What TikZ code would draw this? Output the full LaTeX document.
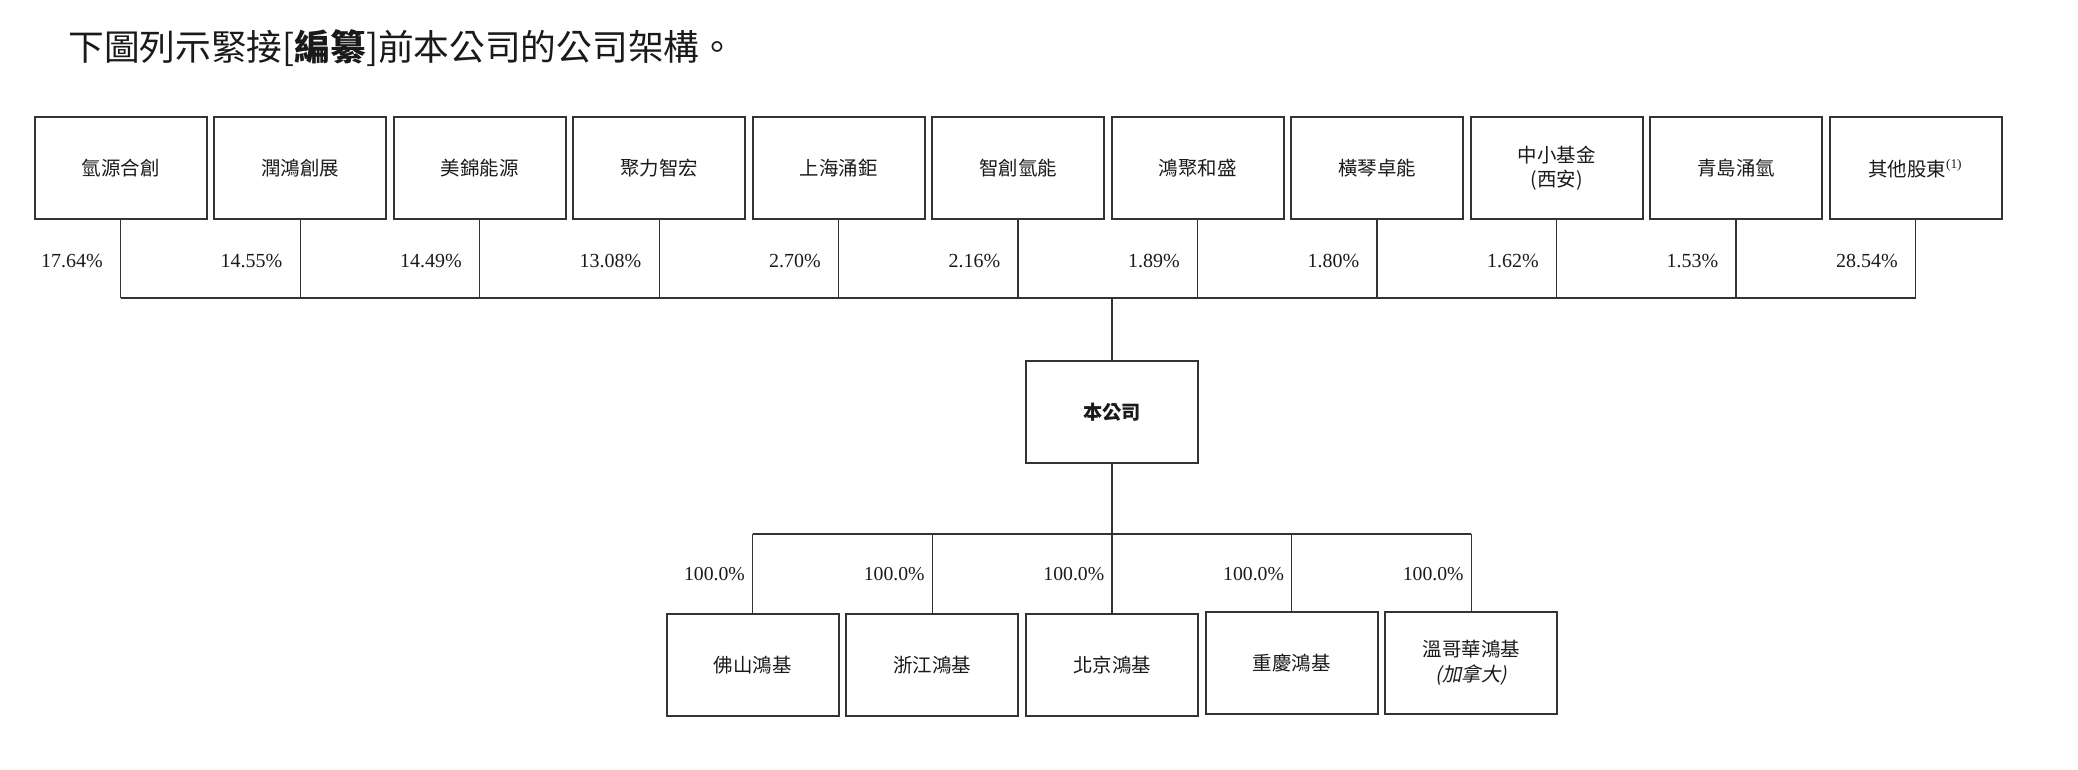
\documentclass[tikz,border=0pt]{standalone}
\usepackage{fontspec}
\setmainfont{Liberation Serif}
\newfontfamily\cjk{Noto Sans CJK TC}
\newfontfamily\cjkit[FakeSlant=0.2]{Noto Sans CJK TC}
\definecolor{linec}{HTML}{333333}
\definecolor{textc}{HTML}{1A1A1A}
\tikzset{
  orgbox/.style={draw=linec, line width=0.75pt, minimum width=64.5pt, minimum height=38.3pt,
    inner sep=0pt, align=center, text=textc, font=\cjk\fontsize{7.3}{9.2}\selectfont},
  conn/.style={draw=linec, line width=0.5pt},
  pct/.style={anchor=east, inner sep=0pt, text=textc, font=\rmfamily\fontsize{7.5}{9}\selectfont},
}
\begin{document}
\begin{tikzpicture}[x=0.5pt, y=-0.5pt]
\useasboundingbox (0,0) rectangle (1560,578);
\node[anchor=west, inner sep=0pt, text=textc, font=\cjk\fontsize{13.4}{16}\selectfont] (title) at (51,36)
  {下圖列示緊接[\textbf{編纂}]前本公司的公司架構。};
\coordinate (bus) at (0,223.8);
\coordinate (pcty) at (0,196);
\coordinate (bus2) at (0,400.8);
\coordinate (pcty2) at (0,431.1);
% top shareholders
\foreach \i/\name/\p in {
  1/氫源合創/17.64,
  2/潤鴻創展/14.55,
  3/美錦能源/14.49,
  4/聚力智宏/13.08,
  5/上海涌鉅/2.70,
  6/智創氫能/2.16,
  7/鴻聚和盛/1.89,
  8/橫琴卓能/1.80,
  9/{中小基金\\(西安)}/1.62,
  10/青島涌氫/1.53,
  11/{其他股東\textsuperscript{\rmfamily\fontsize{5}{6}\selectfont(1)}}/28.54}{
  \node[orgbox] (t\i) at ({90.6+134.75*(\i-1)},126.3) {\name};
  \draw[conn] (t\i.south) -- (t\i.south |- bus);
  \node[pct] (p\i) at ([xshift=-6.5pt]t\i.south |- pcty) {\p\%};
}
\draw[conn] (t1.south |- bus) -- (t11.south |- bus);
% company
\node[orgbox, font=\cjk\bfseries\fontsize{7.2}{9}\selectfont] (co) at (834.8,309.3) {本公司};
\draw[conn] (co.north |- bus) -- (co.north);
\draw[conn] (co.south) -- (co.south |- bus2);
% subsidiaries
\node[orgbox] (b1) at (565,499) {佛山鴻基};
\node[orgbox] (b2) at (699.9,499) {浙江鴻基};
\node[orgbox] (b3) at (834.8,499) {北京鴻基};
\node[orgbox] (b4) at (969.7,497.7) {重慶鴻基};
\node[orgbox] (b5) at (1104.6,497.7) {溫哥華鴻基\\{\cjkit(加拿大)}};
\draw[conn] (b1.north |- bus2) -- (b5.north |- bus2);
\foreach \i in {1,...,5}{
  \draw[conn] (b\i.north |- bus2) -- (b\i.north);
  \node[pct, font=\rmfamily\fontsize{7.4}{9}\selectfont] (q\i) at ([xshift=-2.7pt]b\i.north |- pcty2) {100.0\%};
}
\end{tikzpicture}
\end{document}
